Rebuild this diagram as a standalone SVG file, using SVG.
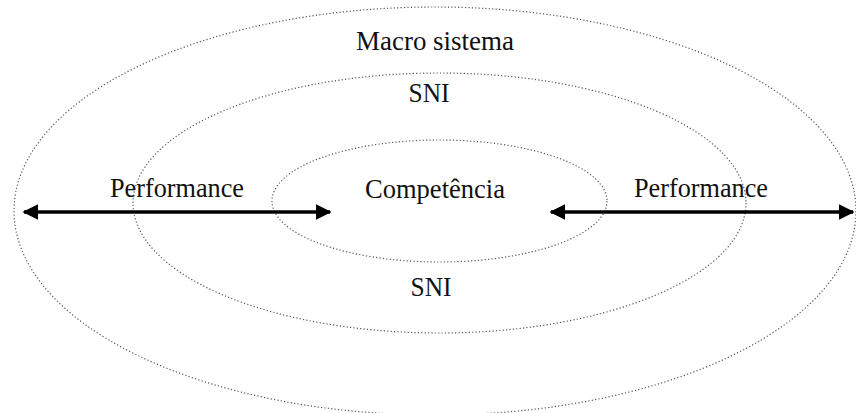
<svg xmlns="http://www.w3.org/2000/svg" width="856" height="413" viewBox="0 0 856 413">
<style>
.ring{fill:none;stroke:#555;stroke-width:1.2;stroke-dasharray:1.2 2.2}
.lbl{font-family:"Liberation Serif","Times New Roman",serif;font-size:28px;fill:#111;text-anchor:middle}
.arr{stroke:#000;stroke-width:3.5;fill:none}
</style>
<defs>
<marker id="ah" viewBox="0 0 10 10" refX="9" refY="5" markerWidth="4.5" markerHeight="4.5" orient="auto-start-reverse" markerUnits="strokeWidth">
<path d="M0,0 L10,5 L0,10 Z" fill="#000"/>
</marker>
</defs>
<rect width="856" height="413" fill="#fff"/>
<g id="macro-sistema">
<ellipse class="ring" cx="435" cy="211" rx="421" ry="204"/>
<text class="lbl" x="435" y="50" textLength="158" lengthAdjust="spacingAndGlyphs">Macro sistema</text>
</g>
<g id="sni">
<ellipse class="ring" cx="439.5" cy="203" rx="306.5" ry="130"/>
<text class="lbl" x="429" y="102" textLength="41" lengthAdjust="spacingAndGlyphs">SNI</text>
<text class="lbl" x="431" y="296" textLength="41" lengthAdjust="spacingAndGlyphs">SNI</text>
</g>
<g id="competencia">
<ellipse class="ring" cx="439.5" cy="201" rx="167.5" ry="61"/>
<text class="lbl" x="435" y="198" textLength="140" lengthAdjust="spacingAndGlyphs">Competência</text>
</g>
<g id="performance-left">
<text class="lbl" x="177" y="197" textLength="134" lengthAdjust="spacingAndGlyphs">Performance</text>
</g>
<g id="performance-right">
<text class="lbl" x="701" y="197" textLength="134" lengthAdjust="spacingAndGlyphs">Performance</text>
</g>
<g id="connectors">
<line class="arr" x1="24" y1="212" x2="330" y2="212" marker-start="url(#ah)" marker-end="url(#ah)"/>
<line class="arr" x1="551" y1="212" x2="853" y2="212" marker-start="url(#ah)" marker-end="url(#ah)"/>
</g>
</svg>
